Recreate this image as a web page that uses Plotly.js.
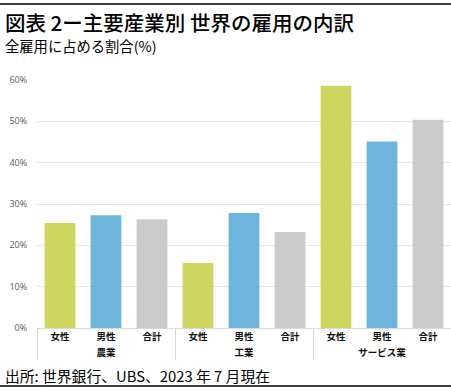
<!DOCTYPE html>
<html><head><meta charset="utf-8">
<script src="https://cdn.plot.ly/plotly-3.0.1.min.js"></script>
<style>html,body{margin:0;padding:0;background:#fff}#chart{width:451px;height:391px}</style>
</head><body><div id="chart"></div>
<script>
const sectors = ['農業', '工業', 'サービス業'];
const genders = ['女性', '男性', '合計'];
const female = [25.4, 15.7, 58.6];
const male = [27.3, 27.8, 45.1];
const total = [26.3, 23.2, 50.4];
const tickVals = [0, 10, 20, 30, 40, 50, 60];
const colors = ['#CFD660', '#6EB5DE', '#CBCBCB'];

const series = [female, male, total];
const xs0 = [], xs1 = [], ys = [], cs = [];
sectors.forEach((s, i) => {
  genders.forEach((g, j) => {
    xs0.push(s); xs1.push(g); ys.push(series[j][i]); cs.push(colors[j]);
  });
});

const W = 451, H = 391, L = 37, R = 0, T = 80, B = 63;
const pw = W - L - R, ph = H - T - B;
const px = x => (x - L) / pw;
const py = y => (H - B - y) / ph;
const font = 'Noto Sans CJK JP, Noto Sans, sans-serif';

const data = [{
  type: 'bar',
  x: [xs0, xs1],
  y: ys,
  marker: {color: cs, line: {width: 0}},
  hoverinfo: 'none'
}];

const layout = {
  width: W, height: H,
  margin: {l: L, r: R, t: T, b: B, pad: 0},
  paper_bgcolor: '#fff', plot_bgcolor: '#fff',
  showlegend: false,
  bargap: 0.33,
  font: {family: font},
  xaxis: {
    type: 'multicategory',
    showgrid: false,
    showline: true, linecolor: '#d9d9d9', linewidth: 1,
    ticks: '',
    tickfont: {size: 9.5, color: '#111', family: font, weight: 'bold'},
    showdividers: true, dividercolor: '#d9d9d9', dividerwidth: 1,
    fixedrange: true
  },
  yaxis: {
    range: [0, 60],
    tickvals: tickVals,
    ticktext: tickVals.map(v => v + '%'),
    showgrid: true, gridcolor: '#e6e6e6', gridwidth: 1,
    zeroline: false, showline: false,
    ticks: 'outside', ticklen: 7, tickcolor: 'rgba(0,0,0,0)',
    tickfont: {size: 9, color: '#595959', family: 'Open Sans, Noto Sans, sans-serif'},
    fixedrange: true
  },
  annotations: [
    {text: '図表 2ー主要産業別 世界の雇用の内訳', xref: 'paper', yref: 'paper',
     x: px(3), y: py(21.5), xanchor: 'left', yanchor: 'middle', showarrow: false,
     font: {size: 20.5, color: '#000', family: font, weight: 500}},
    {text: '全雇用に占める割合(%)', xref: 'paper', yref: 'paper',
     x: px(3), y: py(45), xanchor: 'left', yanchor: 'middle', showarrow: false,
     font: {size: 14.3, color: '#000', family: font}},
    {text: '出所: 世界銀行、UBS、2023 年 7 月現在', xref: 'paper', yref: 'paper',
     x: px(3), y: py(375), xanchor: 'left', yanchor: 'middle', showarrow: false,
     font: {size: 14.8, color: '#000', family: font}}
  ],
  shapes: [
    {type: 'line', xref: 'paper', yref: 'paper', x0: px(0), x1: px(451), y0: py(4), y1: py(4),
     line: {color: '#000', width: 1.5}},
    {type: 'line', xref: 'paper', yref: 'paper', x0: px(0), x1: px(451), y0: py(386), y1: py(386),
     line: {color: '#000', width: 1.5}}
  ]
};

Plotly.newPlot('chart', data, layout, {displayModeBar: false, staticPlot: true});
</script>
</body></html>
